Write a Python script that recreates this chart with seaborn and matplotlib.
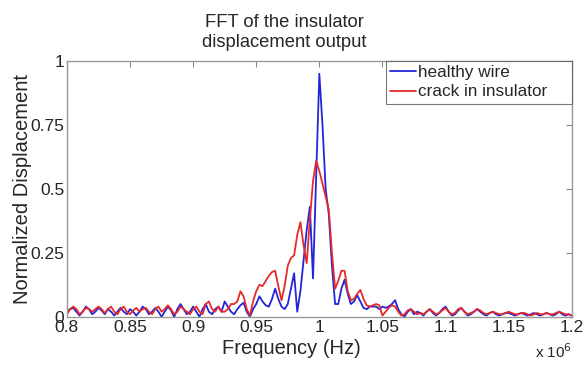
import numpy as np
import pandas as pd
import matplotlib
matplotlib.use("Agg")
import matplotlib.pyplot as plt
from matplotlib.ticker import FuncFormatter
import seaborn as sns

# frequency grid (Hz), 0.8e6 .. 1.2e6
freq = np.linspace(0.8e6, 1.2e6, 161)

# healthy wire
healthy = [
    0.02, 0.03, 0.035, 0.02, 0.005, 0.02, 0.04, 0.03, 0.01, 0.02,
    0.035, 0.025, 0.01, 0.03, 0.02, 0.005, 0.02, 0.035, 0.02, 0.01,
    0.03, 0.02, 0.005, 0.02, 0.04, 0.03, 0.01, 0.02, 0.035, 0.02,
    0.0, 0.02, 0.04, 0.025, 0.0, 0.03, 0.05, 0.03, 0.01, 0.02,
    0.04, 0.02, 0.0, 0.03, 0.05, 0.02, 0.01, 0.03, 0.04, 0.02,
    0.06, 0.04, 0.02, 0.01, 0.03, 0.045, 0.055, 0.02, 0.0, 0.03,
    0.05, 0.08, 0.06, 0.045, 0.04, 0.07, 0.11, 0.07, 0.04, 0.03,
    0.05, 0.11, 0.17, 0.02, 0.10, 0.22, 0.34, 0.43, 0.15, 0.55,
    0.95, 0.75, 0.50, 0.40, 0.20, 0.05, 0.05, 0.11, 0.145, 0.09,
    0.05, 0.06, 0.085, 0.06, 0.035, 0.03, 0.04, 0.04, 0.04, 0.03,
    0.04, 0.035, 0.04, 0.05, 0.065, 0.03, 0.01, 0.0, 0.02, 0.03,
    0.01, 0.02, 0.015, 0.005, 0.02, 0.03, 0.015, 0.005, 0.015, 0.03,
    0.04, 0.02, 0.005, 0.01, 0.025, 0.035, 0.02, 0.005, 0.01, 0.02,
    0.03, 0.02, 0.01, 0.005, 0.015, 0.02, 0.01, 0.005, 0.01, 0.015,
    0.015, 0.01, 0.005, 0.01, 0.015, 0.01, 0.005, 0.01, 0.015, 0.01,
    0.005, 0.01, 0.015, 0.01, 0.005, 0.01, 0.02, 0.01, 0.005, 0.01,
    0.005,
]

# crack in insulator
crack = [
    0.01, 0.03, 0.04, 0.03, 0.01, 0.02, 0.035, 0.03, 0.02, 0.03,
    0.04, 0.03, 0.015, 0.03, 0.04, 0.02, 0.01, 0.03, 0.04, 0.02,
    0.01, 0.025, 0.035, 0.02, 0.03, 0.035, 0.02, 0.01, 0.03, 0.04,
    0.02, 0.03, 0.045, 0.03, 0.01, 0.02, 0.04, 0.03, 0.02, 0.01,
    0.03, 0.04, 0.02, 0.01, 0.05, 0.06, 0.03, 0.02, 0.04, 0.02,
    0.02, 0.03, 0.05, 0.05, 0.06, 0.10, 0.08, 0.03, 0.005, 0.06,
    0.10, 0.125, 0.12, 0.14, 0.16, 0.175, 0.18, 0.12, 0.065, 0.12,
    0.20, 0.23, 0.24, 0.32, 0.37, 0.28, 0.21, 0.38, 0.53, 0.61,
    0.57, 0.52, 0.47, 0.42, 0.25, 0.11, 0.14, 0.18, 0.18, 0.10,
    0.065, 0.07, 0.09, 0.105, 0.07, 0.045, 0.04, 0.045, 0.05, 0.045,
    0.005, 0.02, 0.035, 0.045, 0.04, 0.02, 0.005, 0.01, 0.025, 0.03,
    0.02, 0.01, 0.015, 0.01, 0.02, 0.03, 0.02, 0.01, 0.015, 0.025,
    0.035, 0.02, 0.01, 0.015, 0.03, 0.035, 0.02, 0.01, 0.015, 0.02,
    0.03, 0.025, 0.015, 0.01, 0.015, 0.02, 0.015, 0.01, 0.01, 0.015,
    0.02, 0.015, 0.01, 0.01, 0.015, 0.015, 0.01, 0.005, 0.01, 0.015,
    0.01, 0.01, 0.015, 0.01, 0.01, 0.015, 0.02, 0.015, 0.01, 0.01,
    0.005,
]

xticks = [0.8e6, 0.85e6, 0.9e6, 0.95e6, 1.0e6, 1.05e6, 1.1e6, 1.15e6, 1.2e6]
yticks = [0, 0.25, 0.5, 0.75, 1]
ytick_labels = ["0", "0.25", "0.5", "0.75", "1"]

df = pd.DataFrame({"freq": np.concatenate([freq, freq]),
                   "disp": healthy + crack,
                   "series": ["healthy wire"] * len(freq) + ["crack in insulator"] * len(freq)})

sns.set_style("white")
plt.rcParams["font.family"] = ["Liberation Sans", "DejaVu Sans"]

fig = plt.figure(figsize=(5.87, 3.65), dpi=100)
ax = fig.add_axes([0.114, 0.132, 0.860, 0.701])

sns.lineplot(data=df, x="freq", y="disp", hue="series",
             palette={"healthy wire": "#2424d8", "crack in insulator": "#e42a2a"},
             linewidth=1.3, ax=ax, estimator=None, sort=False)

ax.set_xlim(0.8e6, 1.2e6)
ax.set_ylim(0, 1)
ax.set_xticks(xticks)
ax.xaxis.set_major_formatter(FuncFormatter(lambda v, p: f"{v / 1e6:g}"))
ax.set_yticks(yticks)
ax.set_yticklabels(ytick_labels)
ax.tick_params(direction="in", top=True, right=True, length=4, width=0.8,
               color="#888888", labelsize=12.5, pad=2)
for s in ax.spines.values():
    s.set_color("#999999")
    s.set_linewidth(1.0)

ax.set_title("FFT of the insulator\ndisplacement output", fontsize=13.2, pad=10, x=0.43)
ax.set_xlabel("Frequency (Hz)", fontsize=14.5, labelpad=4)
ax.xaxis.set_label_coords(0.445, -0.085)
ax.set_ylabel("Normalized Displacement", fontsize=14.5, labelpad=-1)
ax.text(1.0, -0.1, "x 10$^6$", transform=ax.transAxes, ha="right", va="top", fontsize=11)

leg = ax.legend(loc="upper left", bbox_to_anchor=(0.632, 0.0, 0.368, 1.0), mode="expand",
                fontsize=12.3, frameon=True, fancybox=False,
                handlelength=1.5, handletextpad=0.15, borderpad=0.25,
                labelspacing=0.25, borderaxespad=0.0)
leg.get_frame().set_edgecolor("#555555")
leg.get_frame().set_linewidth(0.8)

fig.savefig("out.png", dpi=100)
